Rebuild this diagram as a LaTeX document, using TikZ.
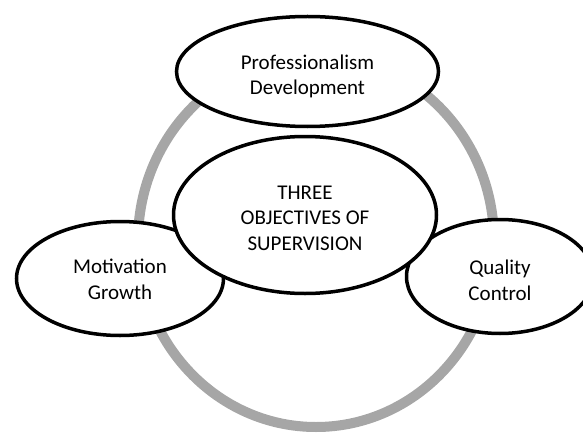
\documentclass[tikz,border=0pt]{standalone}
\usepackage{fontspec}
\setmainfont{Carlito}
\usetikzlibrary{shapes.geometric}

\definecolor{ringgray}{HTML}{A6A6A6}
\tikzstyle{goal}=[draw,line width=3.5pt,ellipse,fill=white,inner sep=0pt]
\tikzstyle{goaltext}=[align=center,inner sep=0pt,font=\fontsize{21}{25.6}\selectfont]
\tikzstyle{ring}=[draw=ringgray,line width=10pt]

\begin{document}
\begin{tikzpicture}[x=1pt, y=-1pt]
    \useasboundingbox (0,0) rectangle (583,433);
    % First the gray ring behind everything
    \draw[ring] (316,241) ellipse [x radius=178, y radius=186];
    % The three objectives sitting on the ring
    \node[goal, minimum width=262pt, minimum height=110pt] (prof) at (307.5,71.5) {};
    \node[goal, minimum width=207pt, minimum height=114pt] (motiv) at (120,278.5) {};
    \node[goal, minimum width=187pt, minimum height=114pt] (quality) at (500,276.5) {};
    \node[goaltext] at ([yshift=-5pt]prof) {Professionalism\\Development};
    \node[goaltext] at ([yshift=-1pt]motiv) {Motivation\\Growth};
    \node[goaltext] at ([yshift=-4pt]quality) {Quality\\Control};
    % Central ellipse goes on top
    \node[goal, minimum width=263pt, minimum height=157pt] (superv) at (305,215) {};
    \node[goaltext] at ([yshift=-3pt]superv) {THREE\\OBJECTIVES OF\\SUPERVISION};
\end{tikzpicture}
\end{document}
